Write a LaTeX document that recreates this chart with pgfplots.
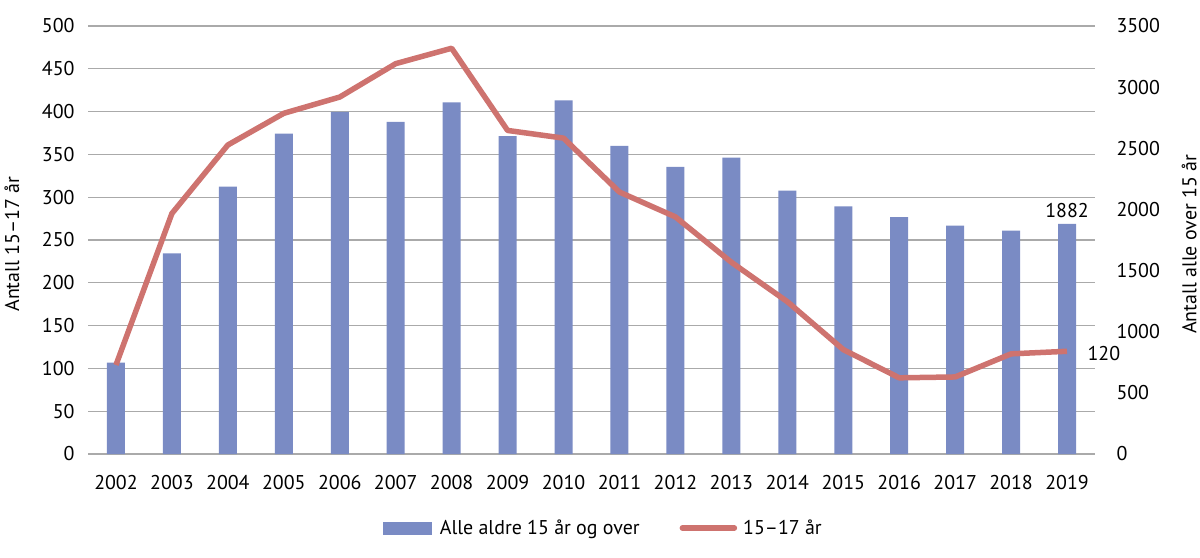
\documentclass[border=0pt]{standalone}
\usepackage{fontspec}
\setmainfont{PT Sans}
\usepackage{pgfplots}
\pgfplotsset{compat=1.18}
\definecolor{barcol}{RGB}{122,139,196}
\definecolor{linecol}{RGB}{206,115,111}
\definecolor{gridcol}{RGB}{170,170,170}
\newcommand{\chartfont}{\fontsize{20}{23}\selectfont}
\begin{document}
\begin{tikzpicture}[font=\chartfont]
\pgfplotsset{
  every axis/.append style={
    scale only axis, width=1007bp, height=428bp,
    xmin=-0.5, xmax=17.5, clip=false,
    axis line style={draw=none},
    major tick length=0pt,
    /pgf/number format/assume math mode=true,
    /pgf/number format/1000 sep={},
    tick label style={font=\chartfont},
    label style={font=\chartfont},
  }
}
% bars: right axis
\begin{axis}[name=bax, at={(0,0)}, anchor=south west,
  axis y line*=right, axis x line*=bottom,
  ymin=0, ymax=3500, ytick={0,500,...,3500},
  yticklabel style={anchor=west, xshift=18bp},
  extra y ticks={0,350,...,3500}, extra y tick labels={},
  extra y tick style={grid=major},
  grid style={gridcol, line width=1.3bp},
  xtick={0,...,17},
  xticklabels={2002,2003,2004,2005,2006,2007,2008,2009,2010,2011,2012,2013,2014,2015,2016,2017,2018,2019},
  xticklabel style={anchor=base, yshift=-35bp},
  ylabel={Antall alle over 15 år},
  every axis y label/.style={at={(axis description cs:1.0934,0.49)}, rotate=90, anchor=center},
]
\addplot[ybar, bar width=18bp, fill=barcol, draw=none, bar shift=0pt] coordinates {
(0,747) (1,1641) (2,2186) (3,2619) (4,2797) (5,2715) (6,2876) (7,2600) (8,2892)
(9,2519) (10,2347) (11,2423) (12,2153) (13,2025) (14,1938) (15,1867) (16,1826) (17,1882)
};
\node[anchor=south, yshift=3bp] at (axis cs:17,1882) {1882};
\end{axis}
% line: left axis
\begin{axis}[at={(0,0)}, anchor=south west,
  axis y line*=left, axis x line*=bottom,
  ymin=0, ymax=500, ytick={0,50,...,500},
  yticklabel style={anchor=east, xshift=-10bp},
  xtick=\empty,
  ylabel={Antall 15–17 år},
  every axis y label/.style={at={(axis description cs:-0.0755,0.49)}, rotate=90, anchor=center},
  legend style={at={(0.512,-0.173)}, anchor=center, draw=none, fill=none, font=\chartfont,
    legend columns=2, /tikz/every even column/.append style={column sep=38bp},
    legend cell align=left},
]
\addlegendimage{legend image code/.code={\fill[barcol] (0bp,-6bp) rectangle (48bp,6bp);}}
\addlegendentry{\hspace*{6bp}Alle aldre 15 år og over}
\addlegendimage{legend image code/.code={\draw[linecol, line width=5.5bp, line cap=round] (0bp,0bp) -- (52bp,0bp);}}
\addlegendentry{\hspace*{4bp}15–17 år}
\addplot[linecol, line width=5.5bp, line join=round, forget plot] coordinates {
(0,104) (1,281) (2,361) (3,398) (4,417) (5,456) (6,474) (7,378) (8,369)
(9,306) (10,277) (11,224) (12,178) (13,122) (14,89) (15,90) (16,117) (17,120)
};
\node[anchor=west, xshift=17bp, yshift=-2bp] at (axis cs:17,120) {120};
\end{axis}
\pgfresetboundingbox
\path (bax.south west) ++(-88bp,-104bp) rectangle ++(1200bp,558bp);
\end{tikzpicture}
\end{document}
